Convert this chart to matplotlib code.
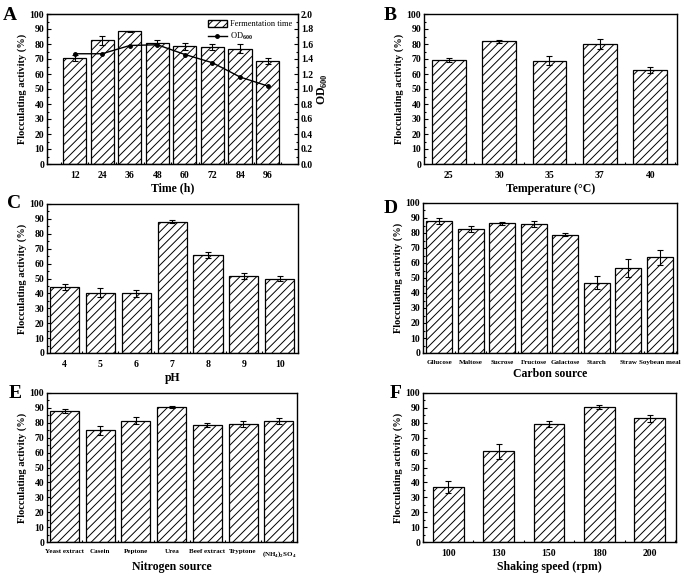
import matplotlib
matplotlib.use("Agg")
import matplotlib.pyplot as plt
from matplotlib.ticker import MultipleLocator, FixedLocator, FormatStrFormatter
from matplotlib.lines import Line2D
from matplotlib.patches import Patch
import numpy as np

plt.rcParams['font.family'] = ['Liberation Serif', 'DejaVu Serif']
plt.rcParams['font.weight'] = 'bold'
plt.rcParams['mathtext.fontset'] = 'custom'
plt.rcParams['mathtext.rm'] = 'Liberation Serif:bold'
plt.rcParams['hatch.linewidth'] = 0.7

# ---- data ----
time_labels = ['12', '24', '36', '48', '60', '72', '84', '96']
time_act = [71, 82.5, 88.5, 81, 78.5, 78, 77, 68.5]
time_err = [2, 3, 0.5, 1.5, 2.5, 2, 3, 2]
time_od = [1.47, 1.47, 1.58, 1.59, 1.46, 1.35, 1.16, 1.04]

temp_labels = ['25', '30', '35', '37', '40']
temp_act = [69.5, 82, 69, 80, 63]
temp_err = [1.5, 1, 3, 3.5, 2]

ph_labels = ['4', '5', '6', '7', '8', '9', '10']
ph_act = [44, 40.5, 40, 88, 66, 51.5, 50]
ph_err = [2, 3, 2.5, 1, 2, 2, 1.5]

carbon_labels = ['Gllucose', 'Maltose', 'Sucrose', 'Fructose', 'Galactose',
                 'Starch', 'Straw', 'Soybean meal']
carbon_act = [88, 82.5, 86.5, 86, 79, 47, 57, 64]
carbon_err = [2, 2, 1, 2, 1, 4.5, 6, 5]

nitrogen_labels = ['Yeast extract', 'Casein', 'Peptone', 'Urea', 'Beef extract',
                   'Tryptone', r'(NH$_4$)$_2$SO$_4$']
nitrogen_act = [88, 75, 81.5, 90.5, 78.5, 79.5, 81.5]
nitrogen_err = [1.5, 3, 2.5, 0.5, 1.5, 2, 2]

speed_labels = ['100', '130', '150', '180', '200']
speed_act = [37, 61, 79, 90.5, 83]
speed_err = [4, 5, 2, 1.5, 2.5]

W, H = 685, 577
fig = plt.figure(figsize=(W / 100, H / 100), dpi=100)
HATCH = '////'


def add_ax(l, t, r, b):
    return fig.add_axes([l / W, 1 - b / H, (r - l) / W, (b - t) / H])


def panel(ax, labels, vals, errs, xlabel, width, xlim, tick_fs=7, letter=None,
          letter_xy=None):
    x = np.arange(1, len(vals) + 1)
    ax.bar(x, vals, width=width, color='white', edgecolor='black', hatch=HATCH,
           linewidth=0.9, zorder=2)
    ax.errorbar(x, vals, yerr=errs, fmt='none', ecolor='black', elinewidth=0.8,
                capsize=2, capthick=0.8, zorder=3)
    ax.set_xlim(*xlim)
    ax.set_ylim(0, 100)
    ax.yaxis.set_major_locator(MultipleLocator(10))
    ax.yaxis.set_minor_locator(MultipleLocator(5))
    ax.set_xticks(x)
    ax.set_xticklabels(labels, fontsize=tick_fs, fontweight='bold')
    ax.xaxis.set_minor_locator(FixedLocator(np.arange(0.5, len(vals) + 1, 1.0)))
    ax.tick_params(axis='both', which='major', direction='in', length=3, width=0.8,
                   labelsize=7, pad=2)
    ax.tick_params(axis='x', which='major', labelsize=tick_fs, length=0, pad=5)
    ax.tick_params(axis='both', which='minor', direction='in', length=1.5, width=0.8)
    for lab in ax.get_yticklabels():
        lab.set_fontweight('bold')
    for s in ax.spines.values():
        s.set_linewidth(1.0)
    ax.set_ylabel('Flocculating activity (%)', fontsize=7.5, fontweight='bold',
                  labelpad=2)
    ax.set_xlabel(xlabel, fontsize=8.5, fontweight='bold', labelpad=2)
    if letter:
        fig.text(letter_xy[0] / W, 1 - letter_xy[1] / H, letter, fontsize=14,
                 fontweight='bold', ha='center', va='center')


# A
axA = add_ax(47, 14, 298, 164)
panel(axA, time_labels, time_act, time_err, 'Time (h)', 0.84, (0, 9.1),
      letter='A', letter_xy=(10, 15))
axA2 = axA.twinx()
xA = np.arange(1, len(time_od) + 1)
axA2.plot(xA, time_od, color='black', marker='o', markersize=2.5, linewidth=1.0,
          zorder=4)
axA2.set_xlim(0, 9.1)
axA.set_xlim(0, 9.1)
axA2.set_ylim(0, 2.0)
axA2.yaxis.set_major_locator(MultipleLocator(0.2))
axA2.yaxis.set_minor_locator(MultipleLocator(0.1))
axA2.yaxis.set_major_formatter(FormatStrFormatter('%.1f'))
axA2.tick_params(axis='y', which='major', direction='in', length=3, width=0.8,
                 labelsize=7, pad=2)
axA2.tick_params(axis='y', which='minor', direction='in', length=1.5, width=0.8)
for lab in axA2.get_yticklabels():
    lab.set_fontweight('bold')
axA2.set_ylabel(r'OD$_{600}$', fontsize=8.5, fontweight='bold', labelpad=2)
handles = [Patch(facecolor='white', edgecolor='black', hatch=HATCH,
                 label='Fermentation time'),
           Line2D([0], [0], color='black', marker='o', markersize=2.5,
                  linewidth=1.0, label=r'OD$_{600}$')]
leg = axA.legend(handles=handles, loc='upper right', frameon=False,
                 prop={'family': 'Liberation Serif', 'size': 6, 'weight': 'normal'},
                 handlelength=2.2, handleheight=1.0, borderaxespad=0.3,
                 labelspacing=0.3, handletextpad=0.4)

# B
axB = add_ax(424, 14, 677, 164)
panel(axB, temp_labels, temp_act, temp_err, 'Temperature (\u00b0C)', 0.67,
      (0.51, 5.53), letter='B', letter_xy=(390, 15))

# C
axC = add_ax(47, 204, 298, 353)
panel(axC, ph_labels, ph_act, ph_err, 'pH', 0.81, (0.51, 7.51),
      letter='C', letter_xy=(14, 204))

# D
axD = add_ax(423, 203, 677, 353)
panel(axD, carbon_labels, carbon_act, carbon_err, 'Carbon source', 0.82,
      (0.49, 8.54), tick_fs=5, letter='D', letter_xy=(391, 208))

# E
axE = add_ax(47, 393, 297, 542)
panel(axE, nitrogen_labels, nitrogen_act, nitrogen_err, 'Nitrogen source', 0.81,
      (0.51, 7.51), tick_fs=5, letter='E', letter_xy=(15, 393))

# F
axF = add_ax(423, 393, 676, 542)
panel(axF, speed_labels, speed_act, speed_err, 'Shaking speed (rpm)', 0.61,
      (0.5, 5.52), letter='F', letter_xy=(396, 394))

fig.savefig('out.png', dpi=100)
